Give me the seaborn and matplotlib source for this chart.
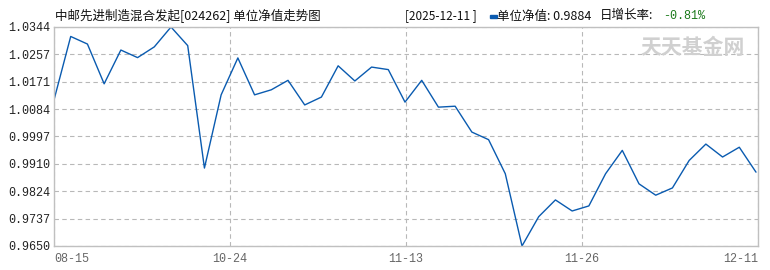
import matplotlib
matplotlib.use("Agg")
import matplotlib.pyplot as plt
import seaborn as sns
import numpy as np
import pandas as pd

# ---- data ----
nav_values = [1.0113, 1.0314, 1.0290, 1.0164, 1.0271, 1.0247, 1.0281, 1.0344, 1.0285, 0.9897,
              1.0129, 1.0246, 1.0129, 1.0145, 1.0175, 1.0097, 1.0122, 1.0221, 1.0173, 1.0217,
              1.0209, 1.0106, 1.0175, 1.0090, 1.0093, 1.0011, 0.9987, 0.9879, 0.9650, 0.9743,
              0.9796, 0.9761, 0.9777, 0.9879, 0.9953, 0.9847, 0.9811, 0.9834, 0.9921, 0.9973,
              0.9932, 0.9963, 0.9884]
x_tick_labels = ["08-15", "10-24", "11-13", "11-26", "12-11"]
y_tick_labels = ["0.9650", "0.9737", "0.9824", "0.9910", "0.9997", "1.0084", "1.0171", "1.0257", "1.0344"]
title_text = "中邮先进制造混合发起[024262] 单位净值走势图"
latest_date = "[2025-12-11 ]"
latest_nav = "单位净值: 0.9884"
growth_label = "日增长率:"
growth_value = "-0.81%"
watermark = "天天基金网"

df = pd.DataFrame({"idx": np.arange(len(nav_values)), "nav": nav_values})

sns.set_theme(style="white")
plt.rcParams['font.family'] = ['Noto Sans CJK SC', 'DejaVu Sans']

W, H = 770, 270
fig = plt.figure(figsize=(7.7, 2.7), dpi=100)
ax = fig.add_axes([54 / W, 1 - 246 / H, (758 - 54) / W, (246 - 27) / H])

sns.lineplot(data=df, x="idx", y="nav", ax=ax, color="#0a5bb0", linewidth=1.0)

ymin, ymax = 0.9650, 1.0344
ax.set_ylim(ymin, ymax)
n = len(nav_values)
xmax = (n - 1) * 704 / 702
ax.set_xlim(0, xmax)

mono = ["Liberation Mono", "DejaVu Sans Mono"]
yticks = np.linspace(ymin, ymax, len(y_tick_labels))
ax.set_yticks(yticks)
ax.set_yticklabels(y_tick_labels, fontsize=8.5, color="#222222", family=mono)

xticks = np.linspace(0, xmax, len(x_tick_labels))
ax.set_xticks(xticks)
ax.set_xticklabels(x_tick_labels, fontsize=8.5, color="#666666", family=mono)
labels = ax.get_xticklabels()
labels[0].set_ha("left")
labels[-1].set_ha("right")
ax.tick_params(axis="y", length=0, pad=3)
ax.tick_params(axis="x", length=0, pad=5)
ax.set_xlabel("")
ax.set_ylabel("")

ax.grid(True, color="#b8b8b8", linestyle=(0, (4, 3)), linewidth=0.8)
for s in ax.spines.values():
    s.set_color("#c0c0c0")
    s.set_linewidth(1.0)

# title and header info
fig.text(55 / W, 1 - 16 / H, title_text, fontsize=9, color="#111111", va="center", ha="left")
fig.text(405 / W, 1 - 16 / H, latest_date, fontsize=8.5, color="#111111", va="center", ha="left")
fig.patches.append(matplotlib.patches.Rectangle((490 / W, 1 - 17.5 / H), 7 / W, 3 / H,
                                                transform=fig.transFigure, color="#0a5bb0"))
fig.text(497 / W, 1 - 16 / H, latest_nav, fontsize=9, color="#111111", va="center", ha="left")
fig.text(600 / W, 1 - 16 / H, growth_label, fontsize=9, color="#111111", va="center", ha="left")
fig.text(663 / W, 1 - 16 / H, growth_value, fontsize=8.5, color="#1a7a1a", va="center", ha="left",
         family=mono)

# watermark
fig.text(745 / W, 1 - 47 / H, watermark, fontsize=15, color="#d0d0d0", va="center", ha="right",
         fontweight="bold")

fig.savefig("out.png", dpi=100)
